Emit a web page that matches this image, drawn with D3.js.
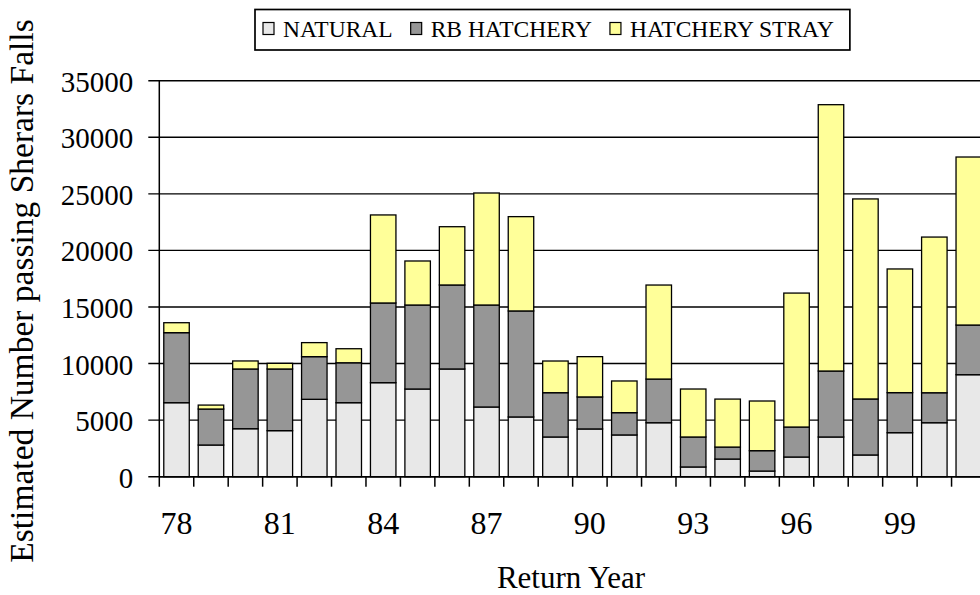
<!DOCTYPE html>
<html>
<head>
<meta charset="utf-8">
<script src="https://cdn.jsdelivr.net/npm/d3@7"></script>
<style>
  body { margin: 0; background: #fff; }
  svg { display: block; font-family: "Liberation Serif", "Times New Roman", serif; }
</style>
</head>
<body>
<svg id="chart"></svg>
<script>
// return years (two digit labels as on the chart)
const years = ['78', '79', '80', '81', '82', '83', '84', '85', '86', '87', '88', '89',
               '90', '91', '92', '93', '94', '95', '96', '97', '98', '99', '00', '01'];
const natural = [6540, 2800, 4240, 4070, 6840, 6540, 8310, 7750, 9520, 6160, 5280, 3510,
                 4220, 3690, 4770, 860, 1560, 500, 1740, 3510, 1920, 3890, 4770, 9015];
const rbHatchery = [6190, 3180, 5280, 5450, 3770, 3530, 7045, 7425, 7425, 9015, 9370, 3915,
                    2830, 1970, 3860, 2650, 1060, 1800, 2650, 5830, 4950, 3540, 2650, 4390];
const hatcheryStray = [880, 350, 710, 500, 1240, 1240, 7780, 3890, 5150, 9900, 8335, 2800,
                       3560, 2800, 8310, 4240, 4240, 4390, 11840, 23540, 17680, 10930, 13760, 14850];
const seriesNames = ['NATURAL', 'RB HATCHERY', 'HATCHERY STRAY'];
const seriesColors = ['#e8e8e8', '#969696', '#ffff99'];
const yTicks = [0, 5000, 10000, 15000, 20000, 25000, 30000, 35000];
const xTickLabels = ['78', '81', '84', '87', '90', '93', '96', '99'];

const width = 980, height = 595;
const margin = {left: 159.3, top: 80.7, right: -6, bottom: 118.3};
const plotW = width - margin.left - margin.right;
const plotH = height - margin.top - margin.bottom;

const svg = d3.select('#chart')
    .attr('width', width)
    .attr('height', height);
svg.append('rect').attr('width', width).attr('height', height).attr('fill', '#fff');

const rows = years.map((y, i) => ({
    year: y,
    natural: natural[i],
    rb: rbHatchery[i],
    stray: hatcheryStray[i]
}));
const keys = ['natural', 'rb', 'stray'];
const stacked = d3.stack().keys(keys)(rows);

const x = d3.scaleBand()
    .domain(years)
    .range([0, plotW])
    .paddingInner(0.26)
    .paddingOuter(0.13);

const y = d3.scaleLinear()
    .domain([0, 35000])
    .range([plotH, 0]);

const g = svg.append('g').attr('transform', `translate(${margin.left},${margin.top})`);

// gridlines (with the little tick stub to the left)
g.append('g')
    .selectAll('line')
    .data(yTicks)
    .join('line')
    .attr('x1', -11)
    .attr('x2', plotW)
    .attr('y1', d => y(d))
    .attr('y2', d => y(d))
    .attr('stroke', '#000')
    .attr('stroke-width', 1.4);

// stacked bars
g.append('g')
    .selectAll('g')
    .data(stacked)
    .join('g')
    .attr('fill', (d, i) => seriesColors[i])
    .selectAll('rect')
    .data(d => d)
    .join('rect')
    .attr('x', d => x(d.data.year))
    .attr('width', x.bandwidth())
    .attr('y', d => y(d[1]))
    .attr('height', d => y(d[0]) - y(d[1]))
    .attr('stroke', '#000')
    .attr('stroke-width', 1.3);

// y axis labels
const yAxis = d3.axisLeft(y)
    .tickValues(yTicks)
    .tickSize(11)
    .tickPadding(15)
    .tickFormat(d3.format('d'));
const yg = g.append('g').call(yAxis);
yg.select('.domain').remove();
yg.selectAll('.tick line').remove();
yg.selectAll('text')
    .attr('font-family', '"Liberation Serif", serif')
    .attr('font-size', 29)
    .attr('fill', '#000')
    .attr('dy', '0.36em');

// y axis line
g.append('line')
    .attr('x1', 0).attr('x2', 0)
    .attr('y1', 0).attr('y2', plotH + 10)
    .attr('stroke', '#000')
    .attr('stroke-width', 1.5);

// x axis line and ticks at band edges
g.append('line')
    .attr('x1', 0).attr('x2', plotW)
    .attr('y1', plotH).attr('y2', plotH)
    .attr('stroke', '#000')
    .attr('stroke-width', 1.5);

const edges = years.map(d => x(d) - x.step() * x.paddingInner() / 2).slice(1)
    .concat([plotW]);
g.append('g')
    .selectAll('line')
    .data(edges)
    .join('line')
    .attr('x1', d => d).attr('x2', d => d)
    .attr('y1', plotH).attr('y2', plotH + 10)
    .attr('stroke', '#000')
    .attr('stroke-width', 1.5);

const xAxis = d3.axisBottom(x)
    .tickValues(xTickLabels)
    .tickSize(0)
    .tickPadding(35);
const xg = g.append('g')
    .attr('transform', `translate(0,${plotH})`)
    .call(xAxis);
xg.select('.domain').remove();
xg.selectAll('text')
    .attr('font-family', '"Liberation Serif", serif')
    .attr('font-size', 32)
    .attr('fill', '#000');

// axis titles
svg.append('text')
    .attr('x', 571)
    .attr('y', 588)
    .attr('text-anchor', 'middle')
    .attr('font-size', 31)
    .text('Return Year');

svg.append('text')
    .attr('transform', 'translate(33,291) rotate(-90)')
    .attr('text-anchor', 'middle')
    .attr('font-size', 33.5)
    .text('Estimated Number passing Sherars Falls');

// legend
const legend = svg.append('g');
const legendBox = legend.append('rect')
    .attr('fill', '#fff')
    .attr('stroke', '#000')
    .attr('stroke-width', 1.7);
let lx = 263;
seriesNames.forEach((name, i) => {
    legend.append('rect')
        .attr('x', lx)
        .attr('y', 22.5)
        .attr('width', 11)
        .attr('height', 12)
        .attr('fill', seriesColors[i])
        .attr('stroke', '#000')
        .attr('stroke-width', 1.2);
    const t = legend.append('text')
        .attr('x', lx + 20)
        .attr('y', 37)
        .attr('font-size', 23.5)
        .text(name);
    lx += 20 + t.node().getComputedTextLength() + 18;
});
legendBox
    .attr('x', 255)
    .attr('y', 9.5)
    .attr('width', lx - 2 - 255)
    .attr('height', 40.5);
</script>
</body>
</html>
